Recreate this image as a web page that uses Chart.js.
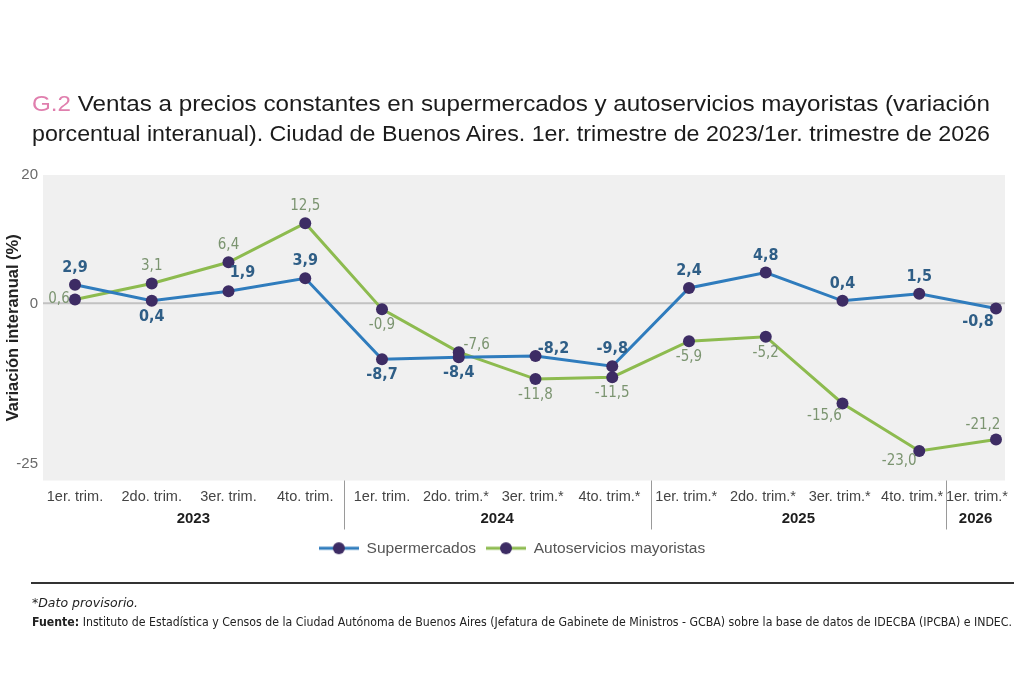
<!DOCTYPE html>
<html lang="es">

<head>
  <meta charset="UTF-8">
  <title>G.2 Ventas en supermercados y autoservicios mayoristas</title>
  <script src="https://cdn.jsdelivr.net/npm/chart.js"></script>
  <style>
    body { margin: 0; background: #fff; font-family: "Liberation Sans", Arial, sans-serif; }
    .pagina { position: relative; width: 1024px; height: 683px; overflow: hidden; }
    #grafico { position: absolute; left: 0; top: 0; }
    .linea { position: absolute; white-space: nowrap; display: inline-block; transform-origin: left top; }
    .titulo { left: 32px; font-size: 22px; line-height: 30px; color: #1b1b1b; }
    .titulo .num { color: #e07fae; }
    .regla { position: absolute; left: 31px; top: 582px; width: 983px; border-top: 2px solid #333; }
    .nota { left: 32px; top: 596px; font-size: 12px; font-style: italic; color: #222;
            font-family: "Liberation Sans Narrow", "DejaVu Sans Condensed", sans-serif; }
    .fuente { left: 32px; top: 615px; font-size: 12px; color: #222;
              font-family: "Liberation Sans Narrow", "DejaVu Sans Condensed", sans-serif; }
  </style>
</head>

<body>
  <div class="pagina">
    <canvas id="grafico" width="1024" height="683"></canvas>
    <div class="linea titulo" style="top: 89px;" data-ancho="958"><span class="num">G.2</span> Ventas a precios constantes en supermercados y autoservicios mayoristas (variación</div>
    <div class="linea titulo" style="top: 119px;" data-ancho="958">porcentual interanual). Ciudad de Buenos Aires. 1er. trimestre de 2023/1er. trimestre de 2026</div>
    <div class="regla"></div>
    <div class="linea nota" data-ancho="106">*Dato provisorio.</div>
    <div class="linea fuente" data-ancho="980"><b>Fuente:</b> Instituto de Estadística y Censos de la Ciudad Autónoma de Buenos Aires (Jefatura de Gabinete de Ministros - GCBA) sobre la base de datos de IDECBA (IPCBA) e INDEC.</div>
  </div>

<script>
  // datos
  const trimestres = ['1er. trim.', '2do. trim.', '3er. trim.', '4to. trim.',
    '1er. trim.', '2do. trim.*', '3er. trim.*', '4to. trim.*',
    '1er. trim.*', '2do. trim.*', '3er. trim.*', '4to. trim.*', '1er. trim.*'];
  const anios = ['2023', '2024', '2025', '2026'];
  const supermercados = [2.9, 0.4, 1.9, 3.9, -8.7, -8.4, -8.2, -9.8, 2.4, 4.8, 0.4, 1.5, -0.8];
  const autoservicios = [0.6, 3.1, 6.4, 12.5, -0.9, -7.6, -11.8, -11.5, -5.9, -5.2, -15.6, -23.0, -21.2];
  const ticksY = [20, 0, -25];

  // estilos
  const colores = ['#2f7cbd', '#8dbb4f'];
  const colorPunto = '#3d2c64';
  const colorEtiqueta = ['#2f5e86', '#7b9470'];
  const fuente = '"Liberation Sans", Arial, sans-serif';
  const fuenteAngosta = "'Liberation Sans Narrow', 'DejaVu Sans Condensed', sans-serif";
  // posicion de cada etiqueta respecto de su punto
  const desplazamientos = { t: [0, -17], b: [0, 16], l: [-16, 0], r: [18, -7], tr: [14, -18], bl: [-18, 13], bl2: [-20, 10], tl: [-13, -14] };
  const lugarEtiquetas = [
    ['t', 'b', 'tr', 't', 'b', 'b', 'r', 't', 't', 't', 't', 't', 'bl'],
    ['l', 't', 't', 't', 'b', 'r', 'b', 'b', 'b', 'b', 'bl', 'bl2', 'tl']
  ];
  // separadores de años en unidades de categoría
  const separadores = [3.5, 7.5, 11.35];

  function formato(v) {
    return v.toFixed(1).replace('.', ',');
  }

  function iconoLeyenda(color) {
    const c = document.createElement('canvas');
    c.width = 40; c.height = 14;
    const g = c.getContext('2d');
    g.strokeStyle = color; g.lineWidth = 3;
    g.beginPath(); g.moveTo(0, 7); g.lineTo(40, 7); g.stroke();
    g.fillStyle = colorPunto;
    g.beginPath(); g.arc(20, 7, 6, 0, Math.PI * 2); g.fill();
    return c;
  }

  const fondo = {
    id: 'fondo',
    beforeDraw(chart) {
      const { ctx, chartArea: a, scales } = chart;
      ctx.save();
      ctx.fillStyle = '#f0f0f0';
      ctx.fillRect(a.left - 32, a.top, a.right - a.left + 41, a.bottom - a.top);
      const y0 = scales.y.getPixelForValue(0);
      ctx.strokeStyle = '#c2c2c2';
      ctx.lineWidth = 2;
      ctx.beginPath(); ctx.moveTo(a.left - 32, y0); ctx.lineTo(a.right + 9, y0); ctx.stroke();
      ctx.restore();
    },
    afterDraw(chart) {
      const { ctx, chartArea: a, scales } = chart;
      const x = scales.x;
      const derecha = a.right + 9;
      const limites = [a.left - 32].concat(separadores.map(s => x.getPixelForValue(s)), [derecha]);
      ctx.save();
      // trimestres, sin salirse del bloque de su año
      ctx.fillStyle = '#444';
      ctx.font = '14.5px ' + fuente;
      ctx.textAlign = 'center';
      ctx.textBaseline = 'middle';
      trimestres.forEach((t, j) => {
        const g = separadores.filter(s => s < j).length;
        const w = ctx.measureText(t).width;
        const base = ctx.measureText(t.replace('*', '')).width;
        let px = x.getPixelForValue(j) + (w - base) / 2 - (w - base);
        px = Math.max(px, limites[g] + 2 + w / 2);
        px = Math.min(px, limites[g + 1] + (g === anios.length - 1 ? 3 : -3) - w / 2);
        ctx.fillText(t, px, a.bottom + 16);
      });
      // separadores
      ctx.strokeStyle = '#9a9a9a';
      ctx.lineWidth = 1;
      separadores.forEach(s => {
        const px = Math.round(x.getPixelForValue(s)) + 0.5;
        ctx.beginPath(); ctx.moveTo(px, a.bottom); ctx.lineTo(px, a.bottom + 49); ctx.stroke();
      });
      // años
      ctx.fillStyle = '#1e1e1e';
      ctx.font = 'bold 15px ' + fuente;
      anios.forEach((anio, i) => {
        ctx.fillText(anio, (limites[i] + limites[i + 1]) / 2, a.bottom + 38);
      });
      ctx.restore();
    }
  };

  const etiquetas = {
    id: 'etiquetas',
    afterDatasetsDraw(chart) {
      const ctx = chart.ctx;
      ctx.save();
      ctx.textAlign = 'center';
      ctx.textBaseline = 'middle';
      chart.data.datasets.forEach((ds, i) => {
        const meta = chart.getDatasetMeta(i);
        ctx.fillStyle = colorEtiqueta[i];
        ctx.font = (i === 0 ? 'bold 16px ' : '15px ') + fuenteAngosta;
        meta.data.forEach((p, j) => {
          const d = desplazamientos[lugarEtiquetas[i][j]];
          ctx.fillText(formato(ds.data[j]), p.x + d[0], p.y + d[1]);
        });
      });
      ctx.restore();
    }
  };

  function serie(nombre, datos, i) {
    return {
      label: nombre,
      data: datos,
      borderColor: colores[i],
      backgroundColor: colores[i],
      borderWidth: 3,
      tension: 0,
      pointRadius: 6,
      pointHoverRadius: 6,
      pointBackgroundColor: colorPunto,
      pointBorderWidth: 0
    };
  }

  new Chart(document.getElementById('grafico'), {
    type: 'line',
    data: {
      labels: trimestres,
      datasets: [
        serie('Supermercados', supermercados, 0),
        serie('Autoservicios mayoristas', autoservicios, 1)
      ]
    },
    options: {
      responsive: false,
      animation: false,
      layout: { padding: { top: 175, left: 0, right: 0, bottom: 117 } },
      plugins: {
        tooltip: { enabled: false },
        legend: {
          position: 'bottom',
          labels: {
            usePointStyle: true,
            pointStyleWidth: 40,
            padding: 10,
            color: '#555',
            font: { size: 15.5, family: fuente },
            generateLabels(chart) {
              const items = Chart.defaults.plugins.legend.labels.generateLabels(chart);
              items.forEach((it, i) => { it.pointStyle = iconoLeyenda(colores[i]); });
              return items;
            }
          }
        }
      },
      scales: {
        x: {
          offset: false,
          grid: { display: false },
          border: { display: false },
          ticks: { display: false },
          afterFit(scale) {
            scale.height = 50;
            scale.paddingLeft = 0;
            scale.paddingRight = 28;
          }
        },
        y: {
          min: -27.6,
          max: 20,
          afterBuildTicks(scale) { scale.ticks = ticksY.map(v => ({ value: v })); },
          afterFit(scale) { scale.width = 75; },
          grid: { display: false, drawTicks: false },
          border: { display: false },
          ticks: {
            padding: 37, color: '#6a6a6a',
            font: { size: 15, family: fuente }
          },
          title: {
            display: true,
            text: 'Variación interanual (%)',
            color: '#222',
            padding: { top: 4, bottom: 0 },
            font: { size: 16.5, weight: 'bold', family: fuente }
          }
        }
      }
    },
    plugins: [fondo, etiquetas]
  });

  // ajustar el ancho de las líneas de texto al original
  document.querySelectorAll('[data-ancho]').forEach(el => {
    const w = el.getBoundingClientRect().width;
    el.style.transform = 'scaleX(' + (el.dataset.ancho / w) + ')';
  });
</script>
</body>

</html>
